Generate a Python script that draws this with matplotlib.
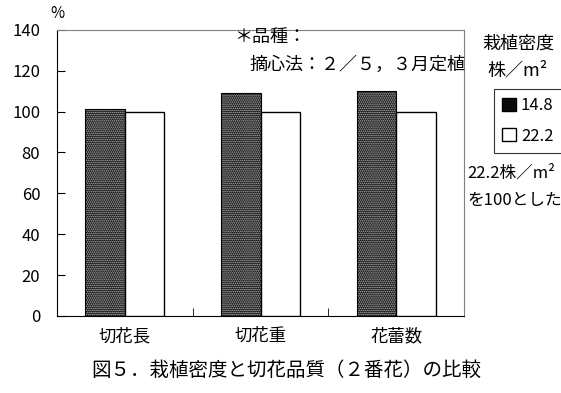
import matplotlib
matplotlib.use("Agg")

import numpy as np
import matplotlib.pyplot as plt
from matplotlib.patches import Patch

plt.rcParams["font.family"] = ["Noto Sans CJK JP", "DejaVu Sans"]
plt.rcParams["hatch.linewidth"] = 0.8

categories = ["切花長", "切花重", "花蕾数"]
density_148 = [101.5, 109.0, 110.0]
density_222 = [100.0, 100.0, 100.0]
series_labels = ["14.8", "22.2"]

DOTS = "........"

fig = plt.figure(figsize=(5.61, 3.93), dpi=100)
ax = fig.add_axes([0.1016, 0.196, 0.7255, 0.728])

x = np.arange(len(categories))
w = 0.29

# dark dotted bars
ax.bar(x - w / 2, density_148, w, color="#111111", edgecolor="#bbbbbb",
       hatch=DOTS, linewidth=0, zorder=2)
ax.bar(x - w / 2, density_148, w, fill=False, edgecolor="black",
       linewidth=0.8, zorder=3)
ax.bar(x + w / 2, density_222, w, color="white", edgecolor="black",
       linewidth=1.0, zorder=3)

ax.set_xlim(-0.5, len(categories) - 0.5)
ax.set_ylim(0, 140)
ax.set_yticks(range(0, 141, 20))
ax.set_xticks(x)
ax.set_xticklabels(categories, fontsize=12.5)
ax.set_xticks([0.5, 1.5], minor=True)
ax.tick_params(axis="x", which="major", length=0, pad=8)
ax.tick_params(axis="x", which="minor", direction="in", length=6)
ax.tick_params(axis="y", direction="in", length=6, labelsize=12, pad=12)

for side in ["top", "right"]:
    ax.spines[side].set_color("#808080")
for side in ["left", "bottom"]:
    ax.spines[side].set_color("black")

fig.text(0.09, 0.945, "%", fontsize=11, ha="left", va="bottom")

fig.text(0.418, 0.905, "＊品種：", fontsize=13, ha="left", va="center")
fig.text(0.445, 0.835, "摘心法：２／５，３月定植", fontsize=13,
         ha="left", va="center")

fig.text(0.923, 0.888, "栽植密度", fontsize=13, ha="center", va="center")
fig.text(0.923, 0.822, "株／m²", fontsize=13, ha="center", va="center")

handles = [
    Patch(facecolor="#111111", edgecolor="black", hatch=DOTS),
    Patch(facecolor="white", edgecolor="black"),
]
leg = fig.legend(handles, series_labels, loc="upper left",
                 bbox_to_anchor=(0.866, 0.795), frameon=True, fontsize=12,
                 handlelength=0.8, handleheight=0.8, handletextpad=0.3,
                 labelspacing=0.8, borderpad=0.5, fancybox=False,
                 edgecolor="black")
leg.get_frame().set_linewidth(0.8)

fig.text(0.833, 0.56, "22.2株／m²", fontsize=12, ha="left", va="center")
fig.text(0.833, 0.49, "を100とした", fontsize=12, ha="left", va="center")

fig.text(0.51, 0.058, "図５．栽植密度と切花品質（２番花）の比較", fontsize=14,
         ha="center", va="center")

fig.savefig("out.png", dpi=100)
